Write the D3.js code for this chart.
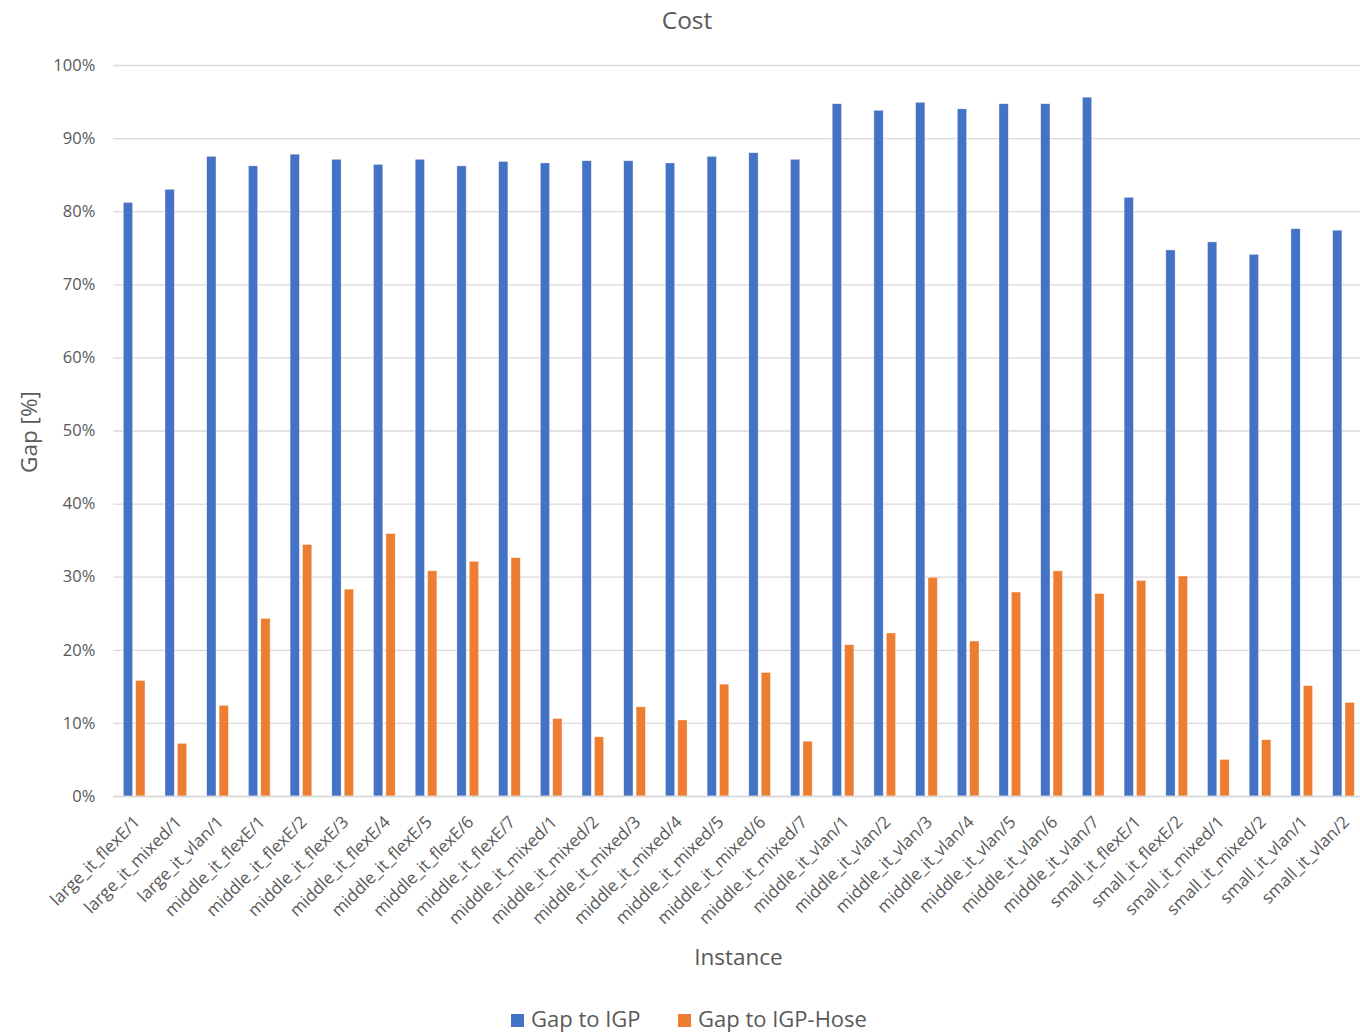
<!DOCTYPE html>
<html><head><meta charset="utf-8">
<script src="https://cdn.jsdelivr.net/npm/d3@7"></script>
<style>
html,body{margin:0;padding:0;background:#fff;}
svg{display:block;font-family:"Open Sans","Liberation Sans",sans-serif;}
</style></head>
<body>
<svg id="chart" width="1360" height="1035"></svg>
<script>
const categories = [
  "large_it_flexE/1","large_it_mixed/1","large_it_vlan/1",
  "middle_it_flexE/1","middle_it_flexE/2","middle_it_flexE/3","middle_it_flexE/4","middle_it_flexE/5","middle_it_flexE/6","middle_it_flexE/7",
  "middle_it_mixed/1","middle_it_mixed/2","middle_it_mixed/3","middle_it_mixed/4","middle_it_mixed/5","middle_it_mixed/6","middle_it_mixed/7",
  "middle_it_vlan/1","middle_it_vlan/2","middle_it_vlan/3","middle_it_vlan/4","middle_it_vlan/5","middle_it_vlan/6","middle_it_vlan/7",
  "small_it_flexE/1","small_it_flexE/2","small_it_mixed/1","small_it_mixed/2","small_it_vlan/1","small_it_vlan/2"
];
const seriesNames = ["Gap to IGP","Gap to IGP-Hose"];
const gapToIGP = [
  81.2,83.0,87.5,
  86.2,87.8,87.1,86.4,87.1,86.2,86.8,
  86.6,86.9,86.9,86.6,87.5,88.0,87.1,
  94.7,93.8,94.9,94.0,94.7,94.7,95.6,
  81.9,74.7,75.8,74.1,77.6,77.4
];
const gapToIGPHose = [
  15.8,7.2,12.4,
  24.3,34.4,28.3,35.9,30.8,32.1,32.6,
  10.6,8.1,12.2,10.4,15.3,16.9,7.5,
  20.7,22.3,29.9,21.2,27.9,30.8,27.7,
  29.5,30.1,5.0,7.7,15.1,12.8
];
const yTicks = [0,10,20,30,40,50,60,70,80,90,100];
const colors = ["#4472C4","#ED7D31"];

const svg = d3.select("#chart");
const textColor = "#595959";
const gridColor = "#d9d9d9";

const x0 = d3.scaleBand().domain(categories).range([113.3, 1364.3]).paddingInner(0).paddingOuter(0);
const bw = x0.bandwidth();
const x1 = d3.scaleBand().domain(seriesNames).range([bw*0.24, bw*0.76]).paddingInner(0.25);
const y = d3.scaleLinear().domain([0,100]).range([796, 65]);

// gridlines
svg.append("g").selectAll("line").data(yTicks).join("line")
  .attr("x1", 113.3).attr("x2", 1364.3)
  .attr("y1", d => y(d)+0.5).attr("y2", d => y(d)+0.5)
  .attr("stroke", gridColor).attr("stroke-width", 1.3);

// y axis labels
const yAxis = d3.axisLeft(y).tickValues(yTicks).tickFormat(d => d + "%").tickSize(0).tickPadding(18);
const yg = svg.append("g").attr("transform","translate(113.3,0)").call(yAxis);
yg.select(".domain").remove();
yg.selectAll("text").attr("fill", textColor).style("font-size","16.5px").style("font-family","'Open Sans',sans-serif");

// bars
const rows = categories.map((c,i) => ({cat:c, vals:[gapToIGP[i], gapToIGPHose[i]]}));
const groups = svg.append("g").selectAll("g").data(rows).join("g")
  .attr("transform", d => `translate(${x0(d.cat)},0)`);
groups.selectAll("rect").data(d => d.vals.map((v,k) => ({k, v}))).join("rect")
  .attr("x", d => x1(seriesNames[d.k]))
  .attr("width", x1.bandwidth())
  .attr("y", d => y(d.v))
  .attr("height", d => y(0) - y(d.v))
  .attr("fill", d => colors[d.k])
  .attr("stroke", "rgba(255,255,255,0.6)").attr("stroke-width", 0.6);

// x axis baseline
svg.append("line").attr("x1",113.3).attr("x2",1364.3).attr("y1",y(0)+0.5).attr("y2",y(0)+0.5)
  .attr("stroke", gridColor).attr("stroke-width",1.3);

// x axis labels
const xAxis = d3.axisBottom(x0).tickSize(0).tickPadding(0);
const xg = svg.append("g").attr("transform", `translate(0,${y(0)})`).call(xAxis);
xg.select(".domain").remove();
xg.selectAll("text")
  .attr("fill", textColor)
  .style("font-size","17px").style("font-family","'Open Sans',sans-serif")
  .attr("text-anchor","end")
  .attr("dy", null).attr("y", null)
  .attr("transform", "translate(7,27) rotate(-45)");

// title
svg.append("text").attr("x", 687).attr("y", 29).attr("text-anchor","middle")
  .attr("fill", textColor).style("font-size","24.5px").text("Cost");

// axis titles
svg.append("text").attr("x", 738.5).attr("y", 965).attr("text-anchor","middle")
  .attr("fill", textColor).style("font-size","22.5px").text("Instance");
svg.append("text").attr("transform","translate(37,432) rotate(-90)").attr("text-anchor","middle")
  .attr("fill", textColor).style("font-size","22.5px").text("Gap [%]");

// legend
const legendItems = [{name:seriesNames[0], x:511},{name:seriesNames[1], x:678}];
const lg = svg.append("g");
legendItems.forEach((it,k) => {
  lg.append("rect").attr("x", it.x).attr("y", 1014).attr("width", 13).attr("height", 13).attr("fill", colors[k]);
  lg.append("text").attr("x", it.x + 20).attr("y", 1027).attr("fill", textColor)
    .style("font-size","22px").text(it.name);
});
</script>
</body></html>
